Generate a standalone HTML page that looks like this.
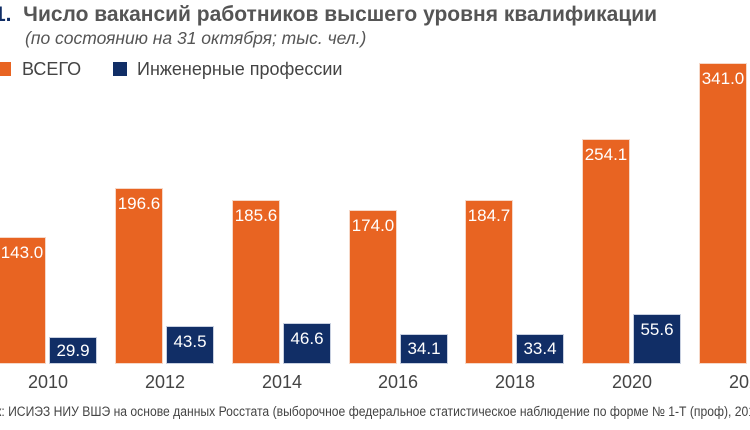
<!DOCTYPE html>
<html><head><meta charset="utf-8"><style>
html,body{margin:0;padding:0}
#w{width:750px;height:430px;background:#fff;position:relative;overflow:hidden;font-family:"Liberation Sans",sans-serif}
.t{position:absolute;white-space:nowrap}
.b{position:absolute;box-sizing:border-box;border:1px solid #f6d8c8;color:#fff;font-size:17px;text-align:center;padding-top:5px}
.o{background:#e86422;width:48px}
.n{background:#112e66;width:48px;border-color:#c8d0e0}
.y{position:absolute;top:372px;width:100px;text-align:center;font-size:18px;color:#444}
</style></head><body><div id="w">
<div class="t" style="left:-6px;top:3px;font-size:21px;font-weight:bold;color:#555"><span style="color:#112e66">1.</span>&nbsp; Число вакансий работников высшего уровня квалификации</div>
<div class="t" style="left:25px;top:28px;font-size:17.5px;font-style:italic;color:#555">(по состоянию на 31 октября; тыс. чел.)</div>
<div class="t" style="left:-3px;top:62px;width:14px;height:14px;background:#e86422"></div>
<div class="t" style="left:22px;top:59px;font-size:18px;color:#444">ВСЕГО</div>
<div class="t" style="left:113px;top:62px;width:14px;height:14px;background:#112e66"></div>
<div class="t" style="left:137px;top:59px;font-size:18px;color:#444">Инженерные профессии</div>

<div class="b o" style="left:-2px;top:237px;height:127px">143.0</div>
<div class="b n" style="left:49px;top:337px;height:27px;padding-top:3px">29.9</div>
<div class="b o" style="left:115px;top:188px;height:176px">196.6</div>
<div class="b n" style="left:166px;top:326px;height:38px">43.5</div>
<div class="b o" style="left:232px;top:200px;height:164px">185.6</div>
<div class="b n" style="left:283px;top:323px;height:41px">46.6</div>
<div class="b o" style="left:349px;top:210px;height:154px">174.0</div>
<div class="b n" style="left:400px;top:334px;height:30px;padding-top:4px">34.1</div>
<div class="b o" style="left:465px;top:200px;height:164px">184.7</div>
<div class="b n" style="left:516px;top:334px;height:30px;padding-top:4px">33.4</div>
<div class="b o" style="left:582px;top:139px;height:225px">254.1</div>
<div class="b n" style="left:633px;top:314px;height:50px">55.6</div>
<div class="b o" style="left:699px;top:63px;height:301px">341.0</div>

<div class="y" style="left:-2px">2010</div>
<div class="y" style="left:115px">2012</div>
<div class="y" style="left:232px">2014</div>
<div class="y" style="left:348px">2016</div>
<div class="y" style="left:465px">2018</div>
<div class="y" style="left:582px">2020</div>
<div class="y" style="left:699px">2022</div>

<div class="t" style="left:-4px;top:404px;font-size:13.5px;color:#444;transform:scaleX(0.9);transform-origin:0 0">к: ИСИЭЗ НИУ ВШЭ на основе данных Росстата (выборочное федеральное статистическое наблюдение по форме № 1-Т (проф), 2010</div>
</div></body></html>
